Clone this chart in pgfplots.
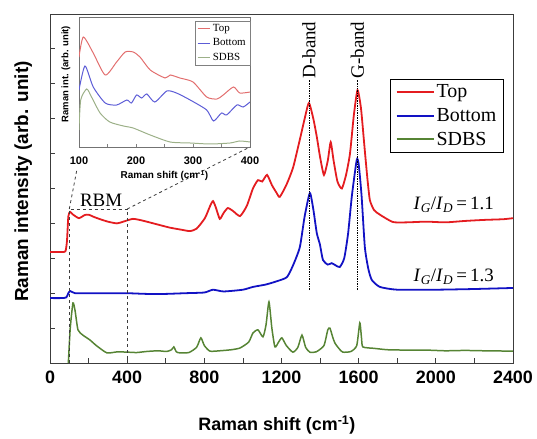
\documentclass[border=0pt]{standalone}
\usepackage{fontspec}
\setmainfont{Liberation Serif}
\setsansfont{Liberation Sans}
\usepackage{pgfplots}
\pgfplotsset{compat=1.18}

\definecolor{cred}{RGB}{228,28,32}
\definecolor{cblue}{RGB}{18,18,196}
\definecolor{cgreen}{RGB}{86,132,52}
\definecolor{ired}{RGB}{226,110,110}
\definecolor{iblue}{RGB}{92,92,214}
\definecolor{igreen}{RGB}{156,176,136}
\definecolor{frame}{RGB}{60,60,60}

\begin{document}
\begin{tikzpicture}
\begin{axis}[
  at={(0,0)}, anchor=south west,
  scale only axis, width=463bp, height=349bp,
  xmin=0, xmax=2400, ymin=0, ymax=10,
  xtick={0,400,...,2400}, minor xtick={200,600,...,2200},
  ytick={0,1,...,10}, yticklabels={},
  tick pos=left, tick align=inside,
  major tick length=5bp, minor tick length=5bp,
  every tick/.style={frame, line width=0.8pt},
  axis line style={frame, line width=0.9pt},
  /pgf/number format/assume math mode=true,
  /pgf/number format/1000 sep={},
  xticklabel style={font=\sffamily\bfseries\fontsize{18}{18}\selectfont, yshift=-4bp},
  xlabel={Raman shift (cm\textsuperscript{-1})},
  ylabel={Raman intensity (arb. unit)},
  xlabel style={font=\sffamily\bfseries\fontsize{18}{18}\selectfont, at={(axis description cs:0.49,-0.178)}, anchor=center},
  ylabel style={font=\sffamily\bfseries\fontsize{19}{19}\selectfont, at={(axis description cs:-0.058,0.52)}, anchor=center},
  legend style={at={(rel axis cs:0.98,0.815)}, anchor=north east, draw=black, line width=0.8pt,
    font=\fontsize{20}{22}\selectfont, row sep=5pt, inner xsep=5pt, inner ysep=4pt},
  legend cell align=left,
  legend image code/.code={\draw[#1, line width=2pt] (0cm,0cm) -- (1.3cm,0cm);},
]
\addplot[cred, line width=1.8pt, smooth, tension=0.35] coordinates {
(0,3.18) (30,3.18) (60,3.18) (80,3.2) (88,3.5) (95,4.2) (104,4.33) (120,4.25) (150,4.15)
(180,4.24) (200,4.25) (230,4.18) (260,4.12) (300,4.05) (347,4.0) (380,4.05) (430,4.13)
(480,4.08) (550,3.98) (620,3.88) (680,3.82) (725,3.78) (760,3.85) (803,4.15) (830,4.5)
(845,4.64) (860,4.45) (880,4.13) (900,4.3) (922,4.44) (950,4.35) (985,4.21) (1020,4.5)
(1052,5.0) (1078,5.24) (1100,5.2) (1125,5.39) (1150,5.1) (1175,4.87) (1191,4.76) (1225,5.1)
(1260,5.6) (1295,6.4) (1320,7.0) (1342,7.45) (1365,7.0) (1383,6.48) (1400,5.9) (1420,5.39)
(1440,5.8) (1455,6.33) (1470,5.8) (1490,5.2) (1513,5.0) (1535,5.4) (1555,6.0) (1575,7.1)
(1594,7.82) (1612,7.3) (1630,6.2) (1645,5.3) (1658,4.67) (1680,4.38) (1710,4.25) (1777,4.04)
(1850,4.03) (1950,4.05) (2050,4.03) (2150,4.07) (2250,4.1) (2350,4.12) (2400,4.15)};
\addlegendentry{Top}
\addplot[cblue, line width=1.8pt, smooth, tension=0.35] coordinates {
(0,1.86) (60,1.86) (85,1.88) (95,2.0) (105,2.06) (130,2.0) (200,2.0) (300,2.0) (400,2.0)
(500,1.98) (600,1.98) (700,2.0) (800,2.02) (845,2.1) (900,2.05) (1000,2.1) (1052,2.18)
(1120,2.25) (1180,2.35) (1228,2.46) (1260,2.8) (1295,3.32) (1320,4.2) (1347,4.87) (1365,4.4)
(1383,3.72) (1399,3.4) (1415,2.95) (1440,2.82) (1460,2.86) (1480,2.8) (1502,2.75) (1525,3.0)
(1545,3.7) (1565,4.8) (1590,5.82) (1600,5.7) (1615,4.8) (1632,3.32) (1650,2.7) (1668,2.38)
(1710,2.18) (1800,2.1) (2000,2.1) (2200,2.12) (2400,2.15)};
\addlegendentry{Bottom}
\addplot[cgreen, line width=1.5pt, smooth, tension=0.35] coordinates {
(95,0.0) (105,1.0) (119,1.72) (130,1.5) (145,0.95) (170,0.8) (207,0.66) (240,0.5) (295,0.29)
(350,0.32) (405,0.31) (450,0.3) (500,0.33) (560,0.35) (605,0.33) (630,0.38) (642,0.46)
(655,0.32) (673,0.29) (720,0.3) (760,0.45) (782,0.72) (800,0.5) (829,0.34) (880,0.35)
(940,0.38) (985,0.43) (1030,0.6) (1052,0.86) (1078,0.95) (1104,0.75) (1120,1.1) (1135,1.75)
(1150,1.0) (1166,0.46) (1185,0.6) (1202,0.72) (1225,0.5) (1259,0.31) (1285,0.45) (1306,0.8)
(1325,0.45) (1347,0.31) (1380,0.32) (1420,0.5) (1440,0.95) (1451,1.0) (1465,0.75) (1477,0.57)
(1500,0.4) (1518,0.31) (1560,0.33) (1590,0.5) (1606,1.15) (1615,0.7) (1622,0.46) (1680,0.42)
(1750,0.38) (1850,0.37) (1950,0.37) (2050,0.35) (2150,0.36) (2250,0.35) (2400,0.34)};
\addlegendentry{SDBS}
% RBM box
\draw[frame, dashed, line width=0.8pt] (axis cs:100,0) -- (axis cs:100,4.41) -- (axis cs:400,4.41) -- (axis cs:400,0);
\node[font=\fontsize{19}{19}\selectfont, anchor=south] at (axis cs:265,4.38) {RBM};
% band markers
\draw[black, densely dotted, line width=0.7pt] (axis cs:1342,2.09) -- (axis cs:1342,8.12);
\draw[black, densely dotted, line width=0.7pt] (axis cs:1594,2.09) -- (axis cs:1594,8.12);
\node[font=\fontsize{19}{19}\selectfont, rotate=90, anchor=west, inner sep=1pt] at (axis cs:1342,8.12) {D-band};
\node[font=\fontsize{19}{19}\selectfont, rotate=90, anchor=west, inner sep=1pt] at (axis cs:1594,8.12) {G-band};
\node[font=\fontsize{19}{19}\selectfont] at (axis cs:2093,4.53) {\textit{I}\textsubscript{\textit{G}}/\textit{I}\textsubscript{\textit{D}}\,=\,1.1};
\node[font=\fontsize{19}{19}\selectfont] at (axis cs:2093,2.46) {\textit{I}\textsubscript{\textit{G}}/\textit{I}\textsubscript{\textit{D}}\,=\,1.3};
\end{axis}

% zoom lines
\draw[frame, dashed, line width=0.8pt] (19.3bp,154bp) -- (27bp,194bp);
\draw[frame, dashed, line width=0.8pt] (77.2bp,154bp) -- (200bp,216bp);

\begin{axis}[
  at={(29bp,216bp)}, anchor=south west,
  scale only axis, width=171bp, height=130bp,
  xmin=100, xmax=400, ymin=0, ymax=130,
  xtick={100,200,300,400}, minor x tick num=1, ytick=\empty,
  tick pos=left, tick align=inside,
  major tick length=3bp, minor tick length=3bp,
  every tick/.style={gray, line width=0.5pt},
  axis line style={gray!90!black, line width=0.6pt},
  /pgf/number format/assume math mode=true,
  xticklabel style={font=\sffamily\bfseries\fontsize{11}{11}\selectfont, inner sep=1pt, yshift=-9bp},
  xlabel={Raman shift (cm\textsuperscript{-1})},
  ylabel={Raman int. (arb. unit)},
  xlabel style={font=\sffamily\bfseries\fontsize{10}{10}\selectfont, at={(axis description cs:0.5,-0.22)}, anchor=center},
  ylabel style={font=\sffamily\bfseries\fontsize{9.5}{9.5}\selectfont, at={(axis description cs:-0.076,0.56)}, anchor=center},
  legend style={at={(rel axis cs:1,0.97)}, anchor=north east, draw=gray, line width=0.5pt,
    font=\fontsize{11}{11}\selectfont, row sep=1.5pt, inner xsep=2pt, inner ysep=1.5pt},
  legend cell align=left,
  legend image code/.code={\draw[#1, line width=1pt] (0cm,0cm) -- (0.45cm,0cm);},
]
\addplot[ired, line width=1pt, smooth, tension=0.4] coordinates {
(100,90) (107.6,110) (125,94) (146,72) (166,85) (181,95) (195,95) (207,90) (225,77) (251,69)
(260,72) (277,69) (300,65) (324,50) (342,48) (353,52) (371,60) (382,54) (400,55)};
\addlegendentry{Top}
\addplot[iblue, line width=1pt, smooth, tension=0.4] coordinates {
(100,57) (110.5,81) (125,60) (146,44) (166,42) (184,47) (192,44) (201,52) (210,49) (219,53)
(233,45) (254,56) (271,54) (295,47) (324,37) (336,26) (350,34) (359,32) (377,42) (388,40) (400,45)};
\addlegendentry{Bottom}
\addplot[igreen, line width=1pt, smooth, tension=0.4] coordinates {
(100,17) (103,47) (113.5,58) (122,50) (137,34) (154,25) (178,21) (195,19) (225,12) (260,5)
(295,4) (330,3) (365,4) (382,6) (400,5)};
\addlegendentry{SDBS}
\end{axis}

\pgfresetboundingbox
\path[use as bounding box] (-50bp,-76bp) rectangle (487bp,363bp);
\end{tikzpicture}
\end{document}
